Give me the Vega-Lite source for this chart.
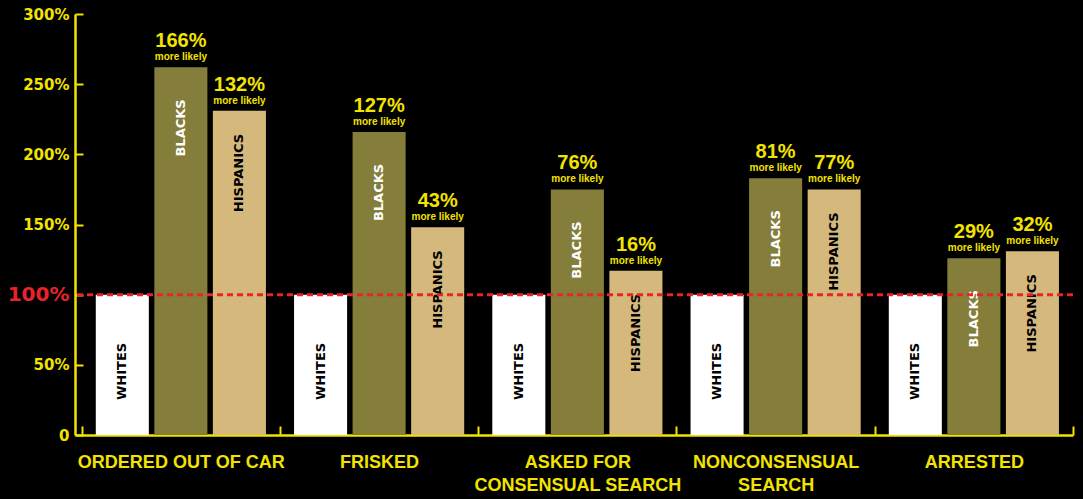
{
  "$schema": "https://vega.github.io/schema/vega-lite/v6.json",
  "width": 998,
  "height": 421,
  "autosize": {"type": "none"},
  "padding": {"left": 75, "top": 14, "right": 10, "bottom": 64},
  "background": "#000000",
  "config": {"view": {"stroke": null}},
  "datasets": {
    "stops": [
      {"group": "ORDERED OUT OF CAR", "race": "WHITES", "value": 100},
      {"group": "ORDERED OUT OF CAR", "race": "BLACKS", "value": 262, "pct": "166%"},
      {"group": "ORDERED OUT OF CAR", "race": "HISPANICS", "value": 231, "pct": "132%"},
      {"group": "FRISKED", "race": "WHITES", "value": 100},
      {"group": "FRISKED", "race": "BLACKS", "value": 216, "pct": "127%"},
      {"group": "FRISKED", "race": "HISPANICS", "value": 148, "pct": "43%"},
      {"group": "ASKED FOR|CONSENSUAL SEARCH", "race": "WHITES", "value": 100},
      {"group": "ASKED FOR|CONSENSUAL SEARCH", "race": "BLACKS", "value": 175, "pct": "76%"},
      {"group": "ASKED FOR|CONSENSUAL SEARCH", "race": "HISPANICS", "value": 117, "pct": "16%"},
      {"group": "NONCONSENSUAL|SEARCH", "race": "WHITES", "value": 100},
      {"group": "NONCONSENSUAL|SEARCH", "race": "BLACKS", "value": 183, "pct": "81%"},
      {"group": "NONCONSENSUAL|SEARCH", "race": "HISPANICS", "value": 175, "pct": "77%"},
      {"group": "ARRESTED", "race": "WHITES", "value": 100},
      {"group": "ARRESTED", "race": "BLACKS", "value": 126, "pct": "29%"},
      {"group": "ARRESTED", "race": "HISPANICS", "value": 131, "pct": "32%"}
    ],
    "baseline": [{"ref": 100}]
  },
  "layer": [
    {
      "data": {"name": "stops"},
      "encoding": {
        "x": {
          "field": "group",
          "type": "nominal",
          "sort": ["ORDERED OUT OF CAR", "FRISKED", "ASKED FOR|CONSENSUAL SEARCH", "NONCONSENSUAL|SEARCH", "ARRESTED"],
          "scale": {"paddingInner": 0, "paddingOuter": 0.017, "align": 1},
          "axis": {
            "title": null,
            "orient": "bottom",
            "domainColor": "#f2e300",
            "domainWidth": 2.5,
            "tickColor": "#f2e300",
            "tickWidth": 2,
            "tickSize": -9,
            "tickBand": "extent",
            "labelAngle": 0,
            "labelColor": "#f2e300",
            "labelFont": "Liberation Sans, Arial, sans-serif",
            "labelFontWeight": "bold",
            "labelFontSize": 18,
            "labelBaseline": "top",
            "labelLineHeight": 23,
            "labelPadding": 27,
            "labelOverlap": false,
            "labelBound": false,
            "labelLimit": 0,
            "labelExpr": "split(datum.label, '|')"
          }
        },
        "xOffset": {
          "field": "race",
          "type": "nominal",
          "sort": ["WHITES", "BLACKS", "HISPANICS"],
          "scale": {"paddingInner": 0.094, "paddingOuter": 0.24}
        },
        "y": {
          "field": "value",
          "type": "quantitative",
          "scale": {"domain": [0, 300], "nice": false, "zero": true},
          "axis": {
            "title": null,
            "grid": false,
            "values": [0, 50, 100, 150, 200, 250, 300],
            "labelExpr": "datum.value == 0 ? '0' : datum.value + '%'",
            "domainColor": "#f2e300",
            "domainWidth": 2.5,
            "tickColor": "#f2e300",
            "tickWidth": 2,
            "tickSize": -8,
            "labelFont": "DejaVu Sans, sans-serif",
            "labelFontWeight": "bold",
            "labelFontSize": {"condition": {"test": "datum.value == 100", "value": 20}, "value": 15},
            "labelColor": {"condition": {"test": "datum.value == 100", "value": "#e8232a"}, "value": "#f2e300"},
            "labelPadding": 14
          }
        }
      },
      "layer": [
        {
          "mark": {"type": "bar"},
          "encoding": {
            "color": {
              "field": "race",
              "type": "nominal",
              "scale": {"domain": ["WHITES", "BLACKS", "HISPANICS"], "range": ["#ffffff", "#847e3a", "#d5b97c"]},
              "legend": null
            }
          }
        },
        {
          "transform": [{"filter": "datum.race !== 'WHITES'"}],
          "mark": {"type": "text", "baseline": "alphabetic", "dy": -20, "fontSize": 20, "fontWeight": "bold", "font": "Liberation Sans, Arial, sans-serif", "color": "#f2e300"},
          "encoding": {"text": {"field": "pct"}}
        },
        {
          "transform": [{"filter": "datum.race !== 'WHITES'"}],
          "mark": {"type": "text", "baseline": "alphabetic", "dy": -7, "fontSize": 10, "fontWeight": "bold", "font": "Liberation Sans, Arial, sans-serif", "color": "#f2e300"},
          "encoding": {"text": {"value": "more likely"}}
        },
        {
          "transform": [{"filter": "datum.race === 'WHITES'"}],
          "mark": {"type": "text", "angle": 270, "align": "left", "baseline": "middle", "dx": 35, "fontSize": 13, "fontWeight": "bold", "font": "DejaVu Sans, sans-serif", "color": "#000000"},
          "encoding": {"y": {"datum": 0, "type": "quantitative"}, "text": {"field": "race"}}
        },
        {
          "transform": [{"filter": "datum.race === 'BLACKS'"}],
          "mark": {"type": "text", "angle": 270, "align": "right", "baseline": "middle", "dx": -32, "fontSize": 13, "fontWeight": "bold", "font": "DejaVu Sans, sans-serif", "color": "#ffffff"},
          "encoding": {"text": {"field": "race"}}
        },
        {
          "transform": [{"filter": "datum.race === 'HISPANICS'"}],
          "mark": {"type": "text", "angle": 270, "align": "right", "baseline": "middle", "dx": -23, "fontSize": 13, "fontWeight": "bold", "font": "DejaVu Sans, sans-serif", "color": "#000000"},
          "encoding": {"text": {"field": "race"}}
        }
      ]
    },
    {
      "data": {"name": "baseline"},
      "mark": {"type": "rule", "color": "#e8232a", "strokeWidth": 3, "strokeDash": [6, 4]},
      "encoding": {"y": {"field": "ref", "type": "quantitative"}}
    }
  ]
}
